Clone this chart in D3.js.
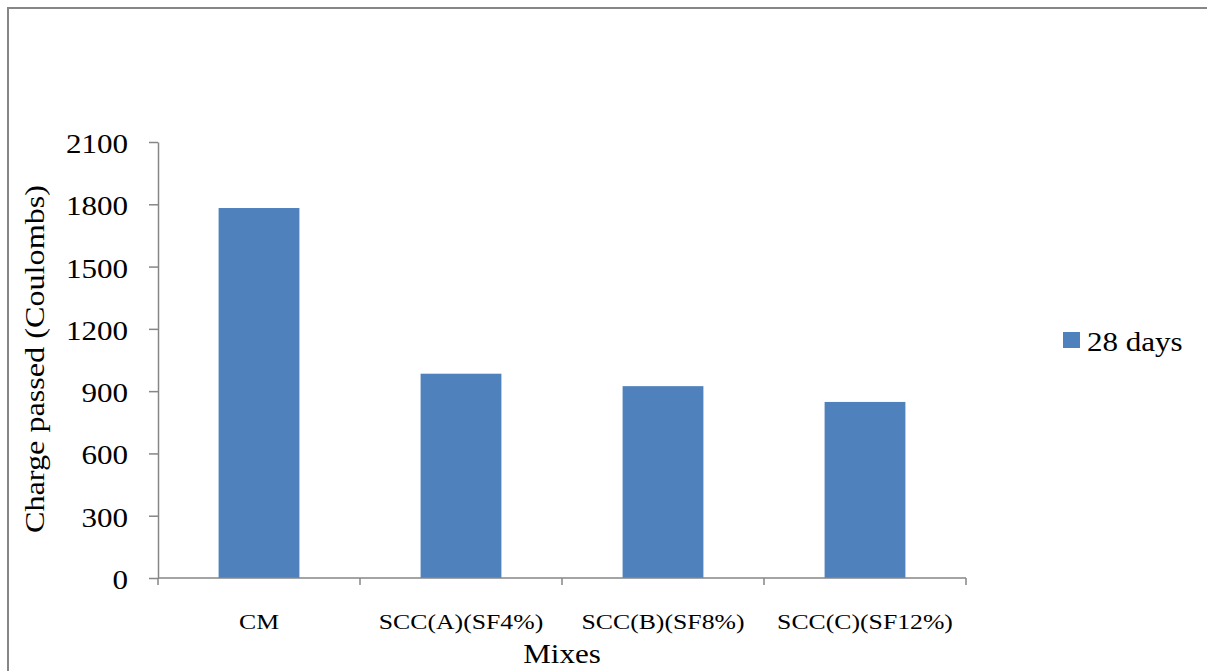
<!DOCTYPE html>
<html>
<head>
<meta charset="utf-8">
<script src="https://cdn.jsdelivr.net/npm/d3@7"></script>
<style>
  html, body { margin: 0; padding: 0; background: #fff; overflow: hidden; }
  svg { display: block; }
  text { font-family: "Liberation Serif", "Times New Roman", serif; fill: #000; }
</style>
</head>
<body>
<svg id="chart" width="1207" height="671"></svg>
<script>
// Rapid chloride permeability at 28 days for each mix
const categories = ["CM", "SCC(A)(SF4%)", "SCC(B)(SF8%)", "SCC(C)(SF12%)"];
const charge28 = [1782, 984, 924, 848];
const yTicks = [0, 300, 600, 900, 1200, 1500, 1800, 2100];
const seriesName = "28 days";
const xTitle = "Mixes";
const yTitle = "Charge passed (Coulombs)";

const svg = d3.select("#chart");
const W = 1207, H = 671;
const plot = { left: 158, right: 966, top: 142, bottom: 578 };
const axisColor = "#868686";
const barColor = "#4F81BD";
const stretch = 1.15; // wide serif glyph proportions

// outer frame: top and left edges inside the view
svg.append("path")
  .attr("d", `M8,${H} V8 H${W}`)
  .attr("fill", "none").attr("stroke", axisColor).attr("stroke-width", 2);

const x = d3.scaleBand().domain(categories).range([plot.left, plot.right]).paddingInner(0).paddingOuter(0);
const y = d3.scaleLinear().domain([0, 2100]).range([plot.bottom, plot.top]);

// bars
const barW = x.bandwidth() * 0.4;
svg.append("g").selectAll("rect")
  .data(categories.map((c, i) => ({ c, v: charge28[i] })))
  .join("rect")
  .attr("x", d => x(d.c) + (x.bandwidth() - barW) / 2)
  .attr("y", d => y(d.v))
  .attr("width", barW)
  .attr("height", d => y(0) - y(d.v))
  .attr("fill", barColor);

// helper for horizontally stretched text
function stretchedText(g, tx, ty, str, size, anchor, rot, sx) {
  return g.append("text")
    .attr("transform", `translate(${tx},${ty})` + (rot ? ` rotate(${rot})` : "") + ` scale(${sx || stretch},1)`)
    .attr("text-anchor", anchor)
    .attr("font-size", size)
    .text(str);
}

// y axis
const yAxis = d3.axisLeft(y).tickValues(yTicks).tickSize(9).tickSizeOuter(0).tickFormat("");
const yg = svg.append("g").attr("transform", `translate(${plot.left},0)`).call(yAxis);
yg.select(".domain").attr("stroke", axisColor).attr("stroke-width", 1.5);
yg.selectAll(".tick line").attr("stroke", axisColor).attr("stroke-width", 1.5);
const ylab = svg.append("g");
yTicks.forEach(t => stretchedText(ylab, 128, y(t) + 11, String(t), 27, "end"));

// x axis with ticks at category boundaries
const bounds = categories.map(c => x(c)).concat([plot.right]);
const xg = svg.append("g");
xg.append("line")
  .attr("x1", plot.left).attr("x2", plot.right)
  .attr("y1", plot.bottom).attr("y2", plot.bottom)
  .attr("stroke", axisColor).attr("stroke-width", 1.5);
xg.selectAll("line.tk").data(bounds).join("line").attr("class", "tk")
  .attr("x1", d => d).attr("x2", d => d)
  .attr("y1", plot.bottom).attr("y2", plot.bottom + 7)
  .attr("stroke", axisColor).attr("stroke-width", 1.5);
const xlab = svg.append("g");
categories.forEach(c => stretchedText(xlab, x(c) + x.bandwidth() / 2, 629, c, 22, "middle", 0, 1.17));

// axis titles
stretchedText(svg, (plot.left + plot.right) / 2, 663, xTitle, 27, "middle");
stretchedText(svg, 44, 359, yTitle, 28, "middle", -90);

// legend
const lg = svg.append("g");
lg.append("rect").attr("x", 1063).attr("y", 332).attr("width", 17).attr("height", 16).attr("fill", barColor);
stretchedText(lg, 1087, 351, seriesName, 27, "start");
</script>
</body>
</html>
